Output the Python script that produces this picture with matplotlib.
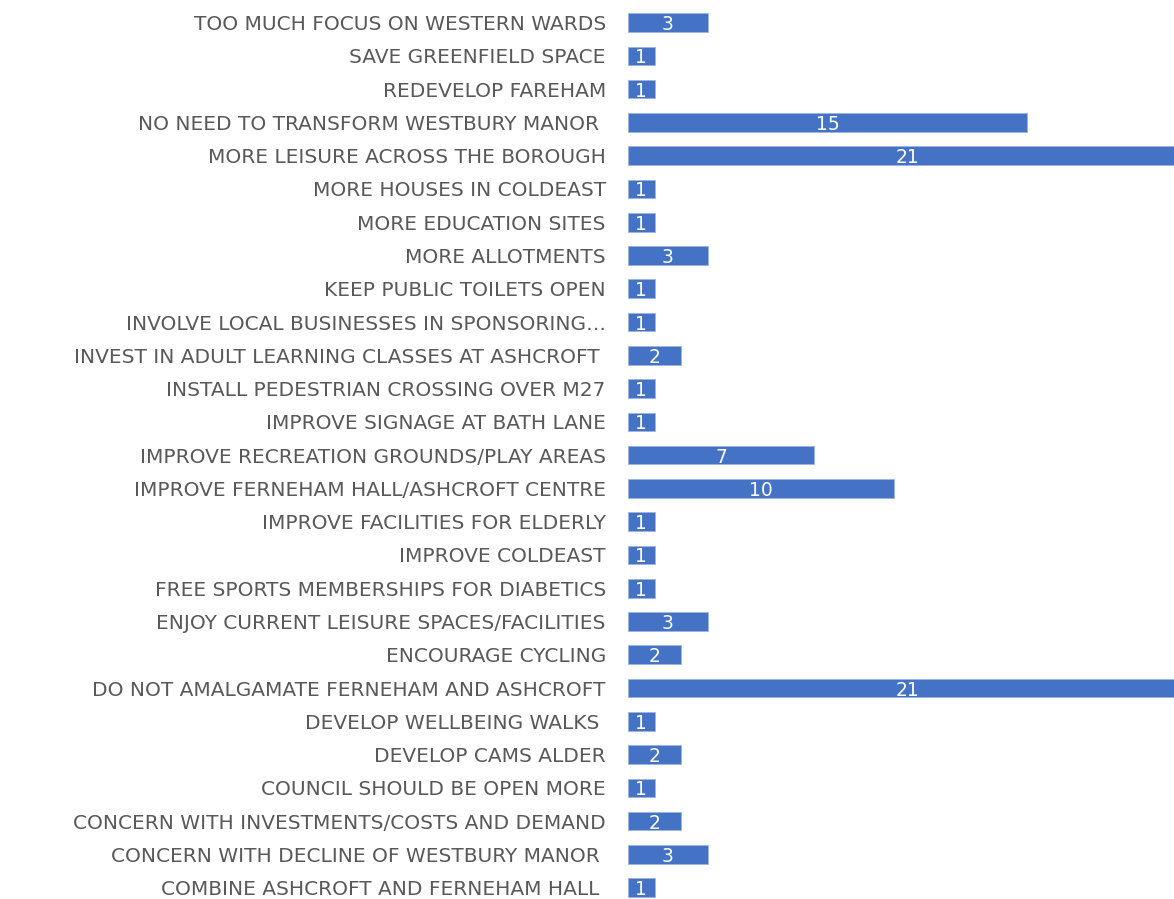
import matplotlib
matplotlib.use('Agg')
import matplotlib.pyplot as plt

labels = [
    'TOO MUCH FOCUS ON WESTERN WARDS',
    'SAVE GREENFIELD SPACE',
    'REDEVELOP FAREHAM',
    'NO NEED TO TRANSFORM WESTBURY MANOR ',
    'MORE LEISURE ACROSS THE BOROUGH',
    'MORE HOUSES IN COLDEAST',
    'MORE EDUCATION SITES',
    'MORE ALLOTMENTS',
    'KEEP PUBLIC TOILETS OPEN',
    'INVOLVE LOCAL BUSINESSES IN SPONSORING…',
    'INVEST IN ADULT LEARNING CLASSES AT ASHCROFT ',
    'INSTALL PEDESTRIAN CROSSING OVER M27',
    'IMPROVE SIGNAGE AT BATH LANE',
    'IMPROVE RECREATION GROUNDS/PLAY AREAS',
    'IMPROVE FERNEHAM HALL/ASHCROFT CENTRE',
    'IMPROVE FACILITIES FOR ELDERLY',
    'IMPROVE COLDEAST',
    'FREE SPORTS MEMBERSHIPS FOR DIABETICS',
    'ENJOY CURRENT LEISURE SPACES/FACILITIES',
    'ENCOURAGE CYCLING',
    'DO NOT AMALGAMATE FERNEHAM AND ASHCROFT',
    'DEVELOP WELLBEING WALKS ',
    'DEVELOP CAMS ALDER',
    'COUNCIL SHOULD BE OPEN MORE',
    'CONCERN WITH INVESTMENTS/COSTS AND DEMAND',
    'CONCERN WITH DECLINE OF WESTBURY MANOR ',
    'COMBINE ASHCROFT AND FERNEHAM HALL ',
]
counts = [3, 1, 1, 15, 21, 1, 1, 3, 1, 1, 2, 1, 1, 7, 10, 1, 1, 1, 3, 2, 21, 1, 2, 1, 2, 3, 1]

bar_color = '#4472C4'
label_color = '#595959'

fig = plt.figure(figsize=(11.74, 8.99), dpi=100)
ax = fig.add_axes([628 / 1174, 0, 1 - 628 / 1174, 1])

pos = list(range(len(labels)))
ax.barh(pos, counts, height=0.56, color=bar_color, edgecolor='#9db3e0', linewidth=0.6)

# value labels sit in the middle of each bar (21s are clipped by the frame)
for y, v in zip(pos, counts):
    ax.text(v / 2, y + 0.06, str(v), ha='center', va='center', color='white',
            fontsize=13.5, clip_on=False)

ax.set_xlim(0, 20.53)
ax.set_ylim(26.34, -0.68)
ax.set_yticks(pos)
ax.set_yticklabels(labels, fontsize=14.5, color=label_color)
ax.tick_params(axis='y', length=0, pad=16)
ax.set_xticks([])
for s in ax.spines.values():
    s.set_visible(False)

fig.savefig('out.png', dpi=100)
